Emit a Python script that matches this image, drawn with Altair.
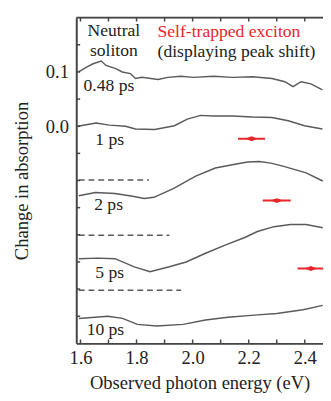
import altair as alt
import pandas as pd

# ---- spectra (offset traces) ----
x_048 = [1.593, 1.622, 1.645, 1.674, 1.691, 1.726, 1.749, 1.778, 1.796, 1.819, 1.877, 1.912, 1.958, 2.004, 2.074, 2.143, 2.213, 2.283, 2.329, 2.358, 2.387, 2.422, 2.463]
y_048 = [0.100, 0.109, 0.115, 0.120, 0.112, 0.106, 0.100, 0.097, 0.088, 0.090, 0.086, 0.090, 0.092, 0.090, 0.092, 0.090, 0.091, 0.088, 0.082, 0.073, 0.082, 0.078, 0.067]

x_1 = [1.590, 1.656, 1.703, 1.761, 1.796, 1.865, 1.935, 1.981, 2.028, 2.074, 2.143, 2.213, 2.283, 2.341, 2.399, 2.463]
y_1 = [0.000, 0.006, 0.002, 0.000, -0.005, -0.006, 0.001, 0.013, 0.020, 0.019, 0.019, 0.017, 0.016, 0.010, 0.001, -0.005]

x_2 = [1.594, 1.653, 1.723, 1.786, 1.827, 1.862, 1.931, 2.011, 2.081, 2.151, 2.196, 2.238, 2.279, 2.325, 2.405, 2.464]
y_2 = [-0.128, -0.122, -0.124, -0.129, -0.133, -0.131, -0.115, -0.092, -0.077, -0.070, -0.066, -0.065, -0.068, -0.074, -0.086, -0.101]

x_5 = [1.594, 1.663, 1.723, 1.792, 1.848, 1.917, 1.977, 2.046, 2.116, 2.186, 2.231, 2.290, 2.349, 2.405, 2.464]
y_5 = [-0.244, -0.243, -0.244, -0.259, -0.268, -0.259, -0.250, -0.234, -0.219, -0.205, -0.194, -0.185, -0.181, -0.181, -0.187]

x_10 = [1.594, 1.698, 1.750, 1.803, 1.872, 1.966, 2.046, 2.126, 2.220, 2.300, 2.394, 2.464]
y_10 = [-0.354, -0.350, -0.354, -0.365, -0.368, -0.365, -0.357, -0.352, -0.348, -0.345, -0.338, -0.330]

# ---- dashed baselines ----
dash_y = [-0.099, -0.201, -0.302]
dash_x0 = [1.594, 1.594, 1.594]
dash_x1 = [1.844, 1.917, 1.959]

# ---- self-trapped exciton peak markers ----
peak_x = [2.210, 2.300, 2.422]
peak_y = [-0.023, -0.137, -0.262]
peak_half = [0.048, 0.050, 0.048]

# ---- labels ----
delay_labels = ["0.48 ps", "1 ps", "2 ps", "5 ps", "10 ps"]
delay_lx = [1.611, 1.653, 1.649, 1.653, 1.622]
delay_ly = [0.073, -0.025, -0.145, -0.270, -0.375]

x_ticks = [1.6, 1.7, 1.8, 1.9, 2.0, 2.1, 2.2, 2.3, 2.4]
x_labels = [1.6, 1.8, 2.0, 2.2, 2.4]
y_ticks = [-0.35, -0.3, -0.25, -0.2, -0.15, -0.1, -0.05, 0.0, 0.05, 0.1, 0.15]
y_labels = [0.0, 0.1]

W, H = 253, 334
FONT = "'Liberation Serif', 'Times New Roman', Times, serif"
GRAY = "#5a5a5a"
FRAME = "#444444"
RED = "#e8262b"

xs = alt.Scale(domain=[1.585, 2.465], nice=False, zero=False)
ys = alt.Scale(domain=[-0.4, 0.2], nice=False, zero=False)

rows = []
for name, xx, yy in [("0.48", x_048, y_048), ("1", x_1, y_1), ("2", x_2, y_2), ("5", x_5, y_5), ("10", x_10, y_10)]:
    for i, (a, b) in enumerate(zip(xx, yy)):
        rows.append({"series": name, "i": i, "x": a, "y": b})
curves = pd.DataFrame(rows)

X = alt.X("x:Q", scale=xs, axis=alt.Axis(values=x_labels, format=".1f", ticks=False, grid=False,
                                          domain=True, domainColor=FRAME, domainWidth=2,
                                          labelFont=FONT, labelFontSize=19, labelColor="#222",
                                          labelPadding=6, title="Observed photon energy (eV)",
                                          titleFont=FONT, titleFontSize=19, titleFontWeight="normal",
                                          titleColor="#222", titlePadding=6))
Y = alt.Y("y:Q", scale=ys, axis=alt.Axis(values=y_labels, format=".1f", ticks=False, grid=False,
                                          domain=True, domainColor=FRAME, domainWidth=2,
                                          labelFont=FONT, labelFontSize=19, labelColor="#222",
                                          labelPadding=8, title="Change in absorption",
                                          titleFont=FONT, titleFontSize=19, titleFontWeight="normal",
                                          titleColor="#222", titleX=-56, titleY=H / 2,
                                          titleAngle=-90, titleBaseline="middle", titleAlign="center"))

lines = alt.Chart(curves).mark_line(color=GRAY, strokeWidth=1.5, clip=True).encode(
    x=X, y=Y, detail="series:N", order="i:Q")

dash_df = pd.DataFrame({"x": dash_x0, "x2": dash_x1, "y": dash_y})
dashes = alt.Chart(dash_df).mark_rule(color=GRAY, strokeWidth=1.6, strokeDash=[6, 4]).encode(
    x=alt.X("x:Q", scale=xs), x2="x2:Q", y=alt.Y("y:Q", scale=ys))

peak_df = pd.DataFrame({"x": peak_x, "y": peak_y,
                        "lo": [a - h for a, h in zip(peak_x, peak_half)],
                        "hi": [a + h for a, h in zip(peak_x, peak_half)]})
peak_bars = alt.Chart(peak_df).mark_rule(color=RED, strokeWidth=2, clip=True).encode(
    x=alt.X("lo:Q", scale=xs), x2="hi:Q", y=alt.Y("y:Q", scale=ys))
peak_dots = alt.Chart(peak_df).mark_point(shape="M-1,0L0,-0.4L1,0L0,0.4Z", filled=True, color=RED,
                                          size=160, opacity=1, clip=True).encode(
    x=alt.X("x:Q", scale=xs), y=alt.Y("y:Q", scale=ys))

lab_df = pd.DataFrame({"x": delay_lx, "y": delay_ly, "t": delay_labels})
delay_text = alt.Chart(lab_df).mark_text(font=FONT, fontSize=18, color="#222", align="left",
                                         baseline="middle").encode(
    x=alt.X("x:Q", scale=xs), y=alt.Y("y:Q", scale=ys), text="t:N")

ann_c = pd.DataFrame({"x": [1.719, 1.719], "y": [0.175, 0.139], "t": ["Neutral", "soliton"]})
ann_center = alt.Chart(ann_c).mark_text(font=FONT, fontSize=18, color="#222", align="center",
                                        baseline="middle").encode(
    x=alt.X("x:Q", scale=xs), y=alt.Y("y:Q", scale=ys), text="t:N")

ann_l = pd.DataFrame({"x": [1.875, 1.875], "y": [0.173, 0.137],
                      "t": ["Self-trapped exciton", "(displaying peak shift)"],
                      "c": [RED, "#222222"]})
ann_left = alt.Chart(ann_l).mark_text(font=FONT, fontSize=18, align="left", baseline="middle").encode(
    x=alt.X("x:Q", scale=xs), y=alt.Y("y:Q", scale=ys), text="t:N",
    color=alt.Color("c:N", scale=None))

# inward tick marks and top frame
xt = pd.DataFrame({"x": x_ticks})
yt = pd.DataFrame({"y": y_ticks})
bot_ticks = alt.Chart(xt).mark_rule(color=FRAME, strokeWidth=1.5).encode(
    x=alt.X("x:Q", scale=xs), y=alt.value(H), y2=alt.value(H - 4))
top_ticks = alt.Chart(xt).mark_rule(color=FRAME, strokeWidth=1.5).encode(
    x=alt.X("x:Q", scale=xs), y=alt.value(0), y2=alt.value(4))
left_ticks = alt.Chart(yt).mark_rule(color=FRAME, strokeWidth=1.5).encode(
    y=alt.Y("y:Q", scale=ys), x=alt.value(0), x2=alt.value(4))
top_frame = alt.Chart(pd.DataFrame({"a": [0]})).mark_rule(color=FRAME, strokeWidth=2).encode(
    x=alt.value(0), x2=alt.value(W), y=alt.value(0))

chart = alt.layer(lines, dashes, peak_bars, peak_dots, delay_text, ann_center, ann_left,
                  bot_ticks, top_ticks, left_ticks, top_frame).properties(
    width=W, height=H,
    autosize=alt.AutoSizeParams(type="none"),
    padding={"left": 70, "top": 5, "right": 0, "bottom": 46},
).configure_view(stroke=None).configure(background="white")

chart.save("out.html", embed_options={"renderer": "svg", "actions": False})
